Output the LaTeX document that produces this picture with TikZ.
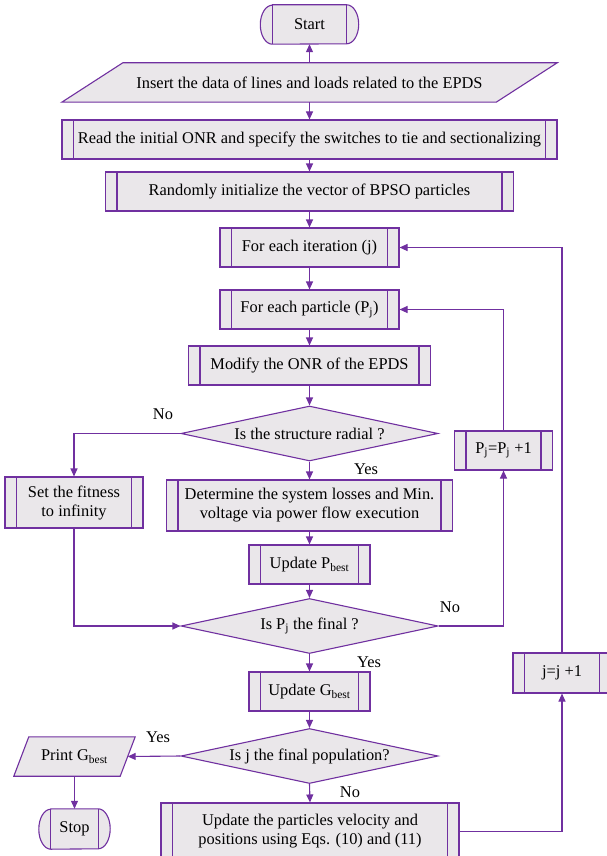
\documentclass[tikz,border=0pt]{standalone}
\usepackage{fontspec}
\setmainfont{Liberation Serif}
\usetikzlibrary{arrows.meta,shapes.geometric,calc}
\definecolor{pc}{RGB}{112,48,160}
\definecolor{fc}{RGB}{234,231,234}
\tikzset{
  base/.style={font=\fontsize{16.4}{19}\selectfont, inner sep=0pt, align=center},
  proc/.style={base, draw=pc, fill=fc, line width=1.1pt,
    path picture={
      \draw[pc, line width=1.1pt] ([xshift=11.5pt]path picture bounding box.south west) -- ([xshift=11.5pt]path picture bounding box.north west);
      \draw[pc, line width=1.1pt] ([xshift=-11.5pt]path picture bounding box.south east) -- ([xshift=-11.5pt]path picture bounding box.north east);
    }},
  dec/.style={base, shape=diamond, draw=pc, fill=fc, line width=1.1pt, aspect=4.67, minimum width=257pt, minimum height=55pt},
  ghost/.style={base, minimum height=39pt},
  shp/.style={draw=pc, fill=fc, line width=1.1pt, line join=miter},
  arr/.style={draw=pc, line width=1.1pt, -{Triangle[length=8pt,width=7pt]}},
  lbl/.style={font=\fontsize{16.4}{19}\selectfont, inner sep=0pt},
}
\begin{document}
\begin{tikzpicture}[x=1pt,y=-1pt]
\useasboundingbox (0,0) rectangle (607,856);

% Start terminal
\node[ghost, minimum width=74pt] (start) at (309.5,24.5) {};
\draw[shp] (start.north west) -- (start.north east)
  arc[start angle=90, end angle=-90, x radius=12pt, y radius=19.5pt]
  -- (start.south west)
  arc[start angle=270, end angle=90, x radius=12pt, y radius=19.5pt] -- cycle;
\draw[pc, line width=1.1pt] (start.north west) -- (start.south west) (start.north east) -- (start.south east);
\node[base] at (start) {Start};

% Insert (data)
\node[ghost, minimum width=495pt] (insert) at (309.5,82.5) {};
\draw[shp] ($(insert.north west)+(61,0)$) -- (insert.north east) -- ($(insert.south east)+(-61,0)$) -- (insert.south west) -- cycle;
\node[base] at (insert) {Insert the data of lines and loads related to the EPDS};

\node[proc, minimum width=495pt, minimum height=39pt] (read) at (309.5,139.5) {Read the initial ONR and specify the switches to tie and sectionalizing};
\node[proc, minimum width=408pt, minimum height=39pt] (rand) at (309.5,191.5) {Randomly initialize the vector of BPSO particles};
\node[proc, minimum width=179pt, minimum height=39pt] (iter) at (309.5,247.5) {For each iteration (j)};
\node[proc, minimum width=179pt, minimum height=39pt] (part) at (309.5,309.5) {For each particle (P\textsubscript{j})};
\node[proc, minimum width=242pt, minimum height=39pt] (modi) at (309.5,365.5) {Modify the ONR of the EPDS};
\node[dec] (d1) at (309.5,433.5) {Is the structure radial ?};
\node[proc, minimum width=138pt, minimum height=51pt] (fit) at (74,502.5) {Set the fitness\\to infinity};
\node[proc, minimum width=286pt, minimum height=51pt] (det) at (309.5,505.5) {Determine the system losses and Min.\\voltage via power flow execution};
\node[proc, minimum width=98pt, minimum height=39pt] (pj) at (503.5,450.5) {P\textsubscript{j}=P\textsubscript{j} +1};
\node[proc, minimum width=121pt, minimum height=39pt] (pbest) at (309.5,564.5) {Update P\textsubscript{best}};
\node[dec] (d2) at (309.5,626) {Is P\textsubscript{j} the final ?};
\node[proc, minimum width=121pt, minimum height=39pt] (gbest) at (309.5,691.5) {Update G\textsubscript{best}};
\node[proc, minimum width=98pt, minimum height=40pt] (jb) at (562,673) {j=j +1};
\node[dec] (d3) at (309.5,756) {Is j the final population?};
\node[proc, minimum width=298pt, minimum height=57pt] (upd) at (310,831.5) {Update the particles velocity and\\positions using Eqs. (10) and (11)};

% Print
\node[ghost, minimum width=121pt] (print) at (74.5,756.5) {};
\draw[shp] ($(print.north west)+(15,0)$) -- (print.north east) -- ($(print.south east)+(-15,0)$) -- (print.south west) -- cycle;
\node[base] at (print) {Print G\textsubscript{best}};

% Stop terminal
\node[ghost, minimum width=47pt, minimum height=40pt] (stop) at (74.5,829) {};
\draw[shp] (stop.north west) -- (stop.north east)
  arc[start angle=90, end angle=-90, x radius=12pt, y radius=20pt]
  -- (stop.south west)
  arc[start angle=270, end angle=90, x radius=12pt, y radius=20pt] -- cycle;
\draw[pc, line width=1.1pt] (stop.north west) -- (stop.south west) (stop.north east) -- (stop.south east);
\node[base] at (stop) {Stop};

% connectors
\draw[arr] (insert.north) -- (start.south);
\draw[arr] (insert.south) -- (read.north);
\draw[arr] (read.south) -- (rand.north);
\draw[arr] (rand.south) -- (iter.north);
\draw[arr] (iter.south) -- (part.north);
\draw[arr] (part.south) -- (modi.north);
\draw[arr] (modi.south) -- (d1.north);
\draw[arr] (d1.west) -| (fit.north);
\draw[arr] (d1.south) -- (det.north);
\draw[arr] (det.south) -- (pbest.north);
\draw[arr] (pbest.south) -- (d2.north);
\draw[arr] (fit.south) |- (d2.west);
\draw[arr] (d2.east) -| (pj.south);
\draw[arr] (pj.north) |- (part.east);
\draw[arr] (d2.south) -- (gbest.north);
\draw[arr] (gbest.south) -- (d3.north);
\draw[arr] (d3.west) -- ($(print.east)+(-7.5,0)$);
\draw[arr] (print.south) -- (stop.north);
\draw[arr] (d3.south) -- (upd.north);
\draw[arr] (upd.east) -| (jb.south);
\draw[arr] (jb.north) |- (iter.east);

% labels
\node[lbl] at (163,414) {No};
\node[lbl] at (366,469) {Yes};
\node[lbl] at (450,607) {No};
\node[lbl] at (369,662) {Yes};
\node[lbl] at (158,737) {Yes};
\node[lbl] at (350,792) {No};
\end{tikzpicture}
\end{document}
